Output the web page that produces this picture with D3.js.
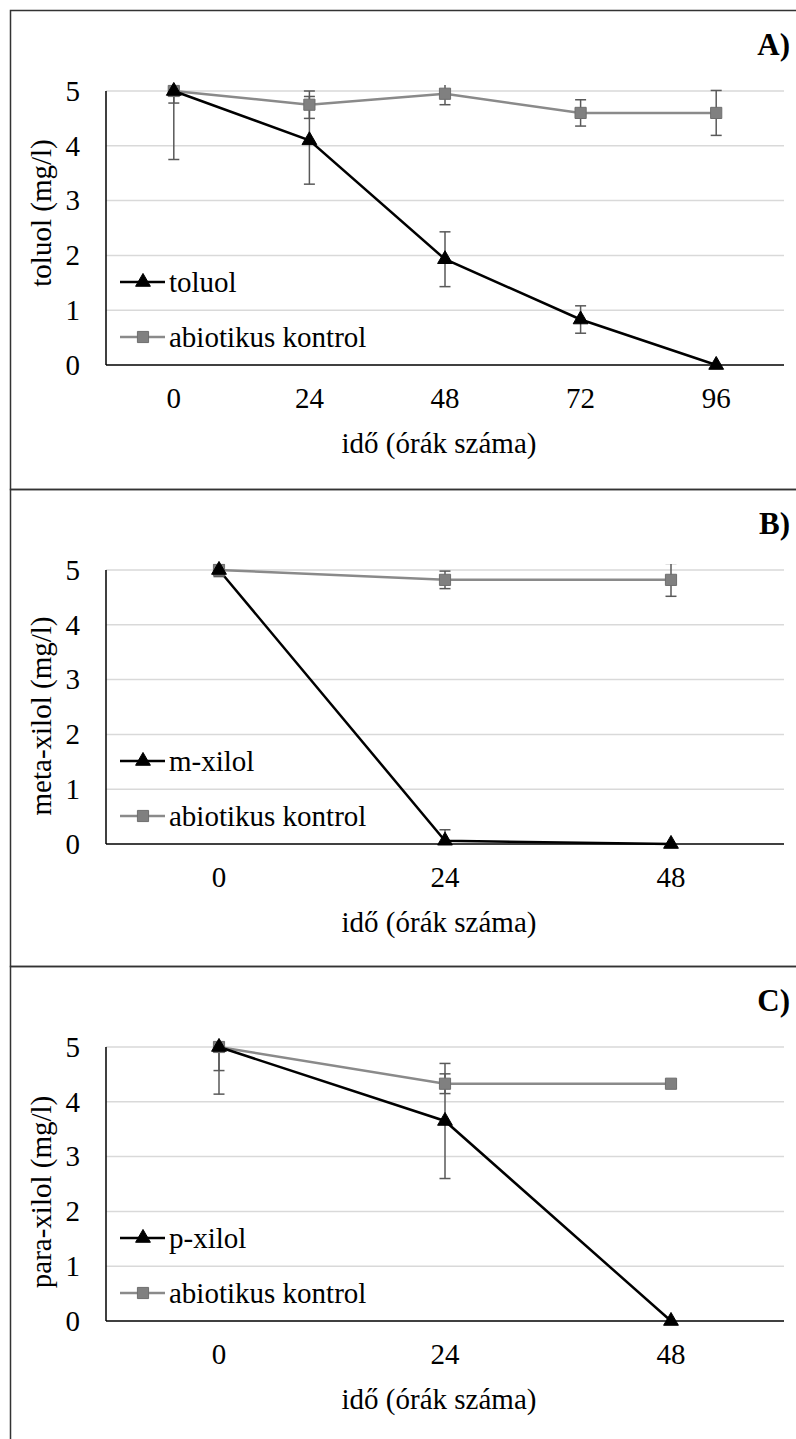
<!DOCTYPE html>
<html>
<head>
<meta charset="utf-8">
<script src="https://cdn.jsdelivr.net/npm/d3@7"></script>
<style>
  body { margin: 0; background: #fff; }
</style>
</head>
<body>
<svg id="chart" width="796" height="1439"></svg>
<script>
// A) toluol
var hoursA = ["0", "24", "48", "72", "96"];
var toluol = [5.0, 4.1, 1.93, 0.83, 0.0];
var toluolErr = [0.22, 0.8, 0.5, 0.25, 0];
var kontrolA = [5.0, 4.75, 4.95, 4.6, 4.6];
var kontrolAErr = [1.25, 0.25, 0.2, 0.24, 0.41];

// B) meta-xilol
var hoursB = ["0", "24", "48"];
var mXilol = [5.0, 0.06, 0.0];
var mXilolErr = [0.1, 0.2, 0];
var kontrolB = [5.0, 4.82, 4.82];
var kontrolBErr = [0.12, 0.16, 0.3];

// C) para-xilol
var hoursC = ["0", "24", "48"];
var pXilol = [5.0, 3.65, 0.0];
var pXilolErr = [0.43, 1.05, 0];
var kontrolC = [5.0, 4.33, 4.33];
var kontrolCErr = [0.86, 0.18, 0];

var yTicks = [0, 1, 2, 3, 4, 5];

var svg = d3.select("#chart");

function serif(sel, size) {
  return sel.style("font-family", "'Liberation Serif'")
      .style("font-size", size + "px")
      .attr("fill", "#000");
}

var panels = [
  { top: 10, bottom: 489, tag: "A)", ytitle: "toluol (mg/l)", ytitleY: 213, cats: hoursA,
    series: [
      { name: "toluol", values: toluol, err: toluolErr, kind: "tri" },
      { name: "abiotikus kontrol", values: kontrolA, err: kontrolAErr, kind: "sq" }
    ] },
  { top: 489, bottom: 966, tag: "B)", ytitle: "meta-xilol (mg/l)", ytitleY: 716, cats: hoursB,
    series: [
      { name: "m-xilol", values: mXilol, err: mXilolErr, kind: "tri" },
      { name: "abiotikus kontrol", values: kontrolB, err: kontrolBErr, kind: "sq" }
    ] },
  { top: 966, bottom: 1460, tag: "C)", ytitle: "para-xilol (mg/l)", ytitleY: 1192, cats: hoursC,
    series: [
      { name: "p-xilol", values: pXilol, err: pXilolErr, kind: "tri" },
      { name: "abiotikus kontrol", values: kontrolC, err: kontrolCErr, kind: "sq" }
    ] }
];

var left = 106, right = 784;
var tri = d3.symbol().type(d3.symbolTriangle).size(95);
var sq = d3.symbol().type(d3.symbolSquare).size(125);

var styles = {
  tri: { line: "#000", fill: "#000", stroke: "#000" },
  sq: { line: "#8a8a8a", fill: "#808080", stroke: "#6e6e6e" }
};

panels.forEach(function(p, pi) {
  // frame (open on the right, as in the source)
  svg.append("rect")
      .attr("x", 10.5)
      .attr("y", p.top + 0.5)
      .attr("width", 820)
      .attr("height", p.bottom - p.top)
      .attr("fill", "none")
      .attr("stroke", "#333")
      .attr("stroke-width", 1.5);

  var g = svg.append("g");
  var plotTop = p.top + 81, plotBottom = p.top + 355;

  var x = d3.scaleBand().domain(p.cats).range([left, right]);
  var y = d3.scaleLinear().domain([0, 5]).range([plotBottom, plotTop]);

  // gridlines
  g.selectAll(".grid")
      .data(yTicks.filter(function(d) { return d > 0; }))
      .enter()
    .append("line")
      .attr("x1", left).attr("x2", right)
      .attr("y1", function(d) { return y(d); })
      .attr("y2", function(d) { return y(d); })
      .attr("stroke", "#d9d9d9")
      .attr("stroke-width", 1.5);

  // axes
  var ya = g.append("g")
      .attr("transform", "translate(" + left + ",0)")
      .call(d3.axisLeft(y).tickValues(yTicks).tickFormat(d3.format("d")).tickSize(0).tickPadding(26));
  ya.select(".domain").remove();
  serif(ya.selectAll("text"), 29);

  var xa = g.append("g")
      .attr("transform", "translate(0," + plotBottom + ")")
      .call(d3.axisBottom(x).tickSize(0).tickPadding(22));
  xa.select(".domain").remove();
  serif(xa.selectAll("text"), 29);

  g.append("line")
      .attr("x1", left).attr("x2", left)
      .attr("y1", plotTop).attr("y2", plotBottom)
      .attr("stroke", "#000").attr("stroke-width", 1.5);
  g.append("line")
      .attr("x1", left).attr("x2", right)
      .attr("y1", plotBottom).attr("y2", plotBottom)
      .attr("stroke", "#000").attr("stroke-width", 1.5);

  // titles
  serif(g.append("text"), 29)
      .attr("x", 439)
      .attr("y", p.top + 443)
      .attr("text-anchor", "middle")
      .text("idő (órák száma)");

  serif(g.append("text"), 29)
      .attr("transform", "translate(51," + p.ytitleY + ") rotate(-90)")
      .attr("text-anchor", "middle")
      .text(p.ytitle);

  serif(g.append("text"), 31)
      .attr("x", 790)
      .attr("y", p.top + 45)
      .attr("text-anchor", "end")
      .style("font-weight", "bold")
      .text(p.tag);

  // clip for error bars
  var clipId = "clip" + pi;
  svg.append("clipPath").attr("id", clipId)
    .append("rect")
      .attr("x", left).attr("y", plotTop - 6)
      .attr("width", right - left).attr("height", plotBottom - plotTop + 6);

  var line = d3.line()
      .x(function(d, i) { return x(p.cats[i]) + x.bandwidth() / 2; })
      .y(function(d) { return y(d); });

  // lines: grey series first, black on top
  p.series.slice().reverse().forEach(function(s) {
    g.append("path")
        .datum(s.values)
        .attr("d", line)
        .attr("fill", "none")
        .attr("stroke", styles[s.kind].line)
        .attr("stroke-width", 2.5);
  });

  // error bars
  var eb = g.append("g").attr("clip-path", "url(#" + clipId + ")");
  p.series.forEach(function(s) {
    s.values.forEach(function(v, i) {
      var e = s.err[i];
      if (!e) return;
      var cx = x(p.cats[i]) + x.bandwidth() / 2;
      var y1 = y(v + e), y2 = y(v - e);
      eb.append("line").attr("x1", cx).attr("x2", cx).attr("y1", y1).attr("y2", y2)
          .attr("stroke", "#595959").attr("stroke-width", 1.5);
      [y1, y2].forEach(function(yy) {
        eb.append("line").attr("x1", cx - 5.5).attr("x2", cx + 5.5).attr("y1", yy).attr("y2", yy)
            .attr("stroke", "#595959").attr("stroke-width", 1.5);
      });
    });
  });

  // markers
  p.series.slice().reverse().forEach(function(s) {
    g.selectAll(null)
        .data(s.values)
        .enter()
      .append("path")
        .attr("d", s.kind === "tri" ? tri : sq)
        .attr("transform", function(d, i) {
          return "translate(" + (x(p.cats[i]) + x.bandwidth() / 2) + "," + y(d) + ")";
        })
        .attr("fill", styles[s.kind].fill)
        .attr("stroke", styles[s.kind].stroke)
        .attr("stroke-width", 1);
  });

  // legend
  p.series.forEach(function(s, i) {
    var ly = p.top + 272 + i * 55;
    g.append("line")
        .attr("x1", 120).attr("x2", 165)
        .attr("y1", ly).attr("y2", ly)
        .attr("stroke", styles[s.kind].line)
        .attr("stroke-width", 2.5);
    g.append("path")
        .attr("d", s.kind === "tri" ? tri : sq)
        .attr("transform", "translate(143," + ly + ")")
        .attr("fill", styles[s.kind].fill)
        .attr("stroke", styles[s.kind].stroke);
    serif(g.append("text"), 29)
        .attr("x", 169)
        .attr("y", ly + 10)
        .text(s.name);
  });
});
</script>
</body>
</html>
